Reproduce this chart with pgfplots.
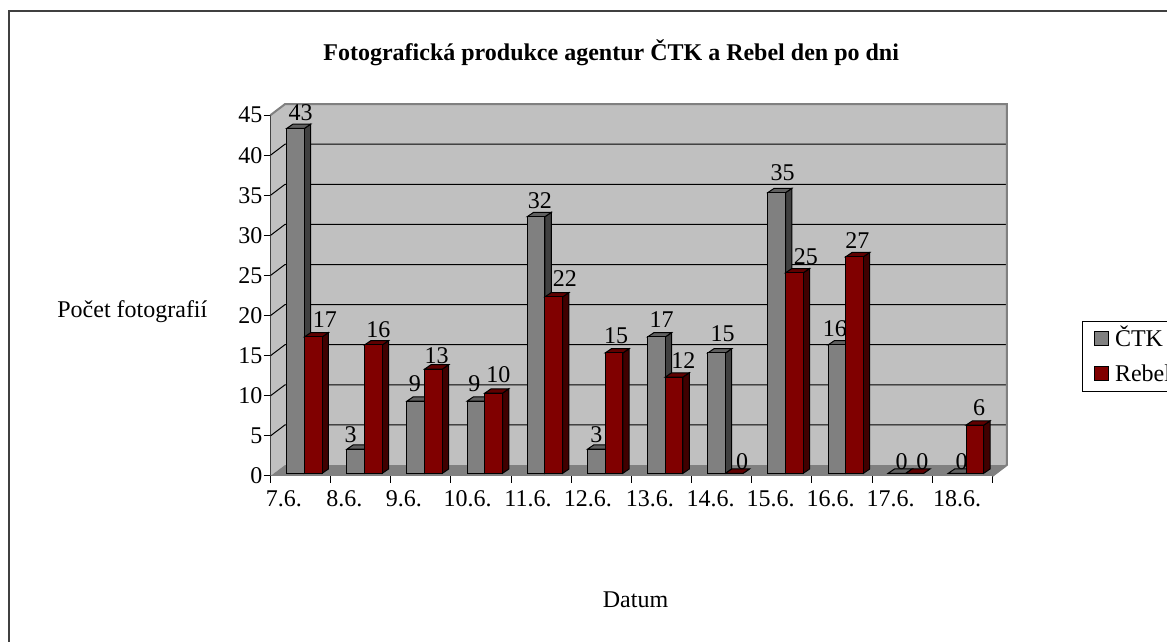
\documentclass[border=0pt]{standalone}
\usepackage{pgfplots}
\pgfplotsset{compat=1.18}
\usepackage{pgfplotstable}
\usepackage{fontspec}
\setmainfont{Liberation Serif}
\definecolor{wall}{HTML}{C0C0C0}
\definecolor{floorc}{HTML}{808080}
\definecolor{gf}{HTML}{808080}
\definecolor{gs}{HTML}{404040}
\definecolor{gt}{HTML}{606060}
\definecolor{rf}{HTML}{800000}
\definecolor{rs}{HTML}{400000}
\definecolor{rt}{HTML}{600000}
% x y dx dy : dx, dy are the small offsets of the value label
\pgfplotstableread{
x y dx dy
0.5 43 1.6 0.3
1.5 3 -8.5 -1
2.5 9 -4.4 2.6
3.5 9 -5.2 2.6
4.5 32 0.3 0.9
5.5 3 -3.5 -1
6.5 17 1.7 2.2
7.5 15 2.5 4.5
8.5 35 2.4 4.4
9.5 16 -5.5 0.8
10.5 0 1.1 -4.2
11.5 0 1 -4.2
}\ctk
\pgfplotstableread{
x y dx dy
0.5 17 6.4 2.2
1.5 16 -0.4 0.2
2.5 13 -2.2 -1.8
3.5 10 -0.7 3.3
4.5 22 5.8 2.7
5.5 15 -3.3 2.2
6.5 12 3.8 0.6
7.5 0 2.4 -4.2
8.5 25 6.2 1
9.5 27 -2.6 0.3
10.5 0 2.2 -4.2
11.5 6 -1.2 1.7
}\rebel
\newcommand{\bigfont}{\fontsize{24}{28}\selectfont}
\pgfplotsset{
  sidetop/.style n args={2}{
    scatter, only marks, forget plot, mark=*, mark size=0pt,
    mark options={draw=none,fill=none},
    visualization depends on={rawy \as \rawval},
    scatter/@pre marker code/.code={
      \pgfmathsetmacro\hh{\rawval*8.02}
      \filldraw[fill=#1,draw=black,line width=1pt] (0pt,0pt)--(6.3pt,4.3pt)--(6.3pt,4.3pt-\hh pt)--(0pt,-\hh pt)--cycle;
      \filldraw[fill=#2,draw=black,line width=1pt] (0pt,0pt)--(6.3pt,4.3pt)--(-11.4pt,4.3pt)--(-17.7pt,0pt)--cycle;
    },
    scatter/@post marker code/.code={},
  },
  front/.style={ybar, forget plot, bar width=17.7pt, draw=black, line width=1pt},
  lab/.style={only marks, mark=none, forget plot, nodes near coords,
    point meta=y,
    visualization depends on={\thisrow{dx} \as \dxv},
    visualization depends on={\thisrow{dy} \as \dyv},
    every node near coord/.append style={anchor=base, font=\bigfont, inner sep=0pt,
      /pgf/number format/assume math mode=true, xshift=\dxv pt, yshift=7.5pt+\dyv pt}},
}
\begin{document}
\begin{tikzpicture}[x=1pt,y=1pt]
\path[use as bounding box] (0,0) rectangle (1167,642);
\clip (0,0) rectangle (1167,642);
\draw[color=black!75, line width=2pt] (8.7,-5)--(8.7,631.3)--(1175,631.3);
\begin{axis}[
  clip mode=individual,
  at={(270.5pt,166pt)}, anchor=south west,
  scale only axis, width=721.8pt, height=360.9pt,
  xmin=0, xmax=12, ymin=0, ymax=45, clip=false,
  axis x line=bottom, axis y line=left,
  axis line style={black,line width=1pt,-},
  xtick={0,...,12}, xticklabels={}, 
  extra x ticks={0.224,1.227,2.219,3.279,4.281,5.278,6.309,7.318,8.316,9.313,10.311,11.413},
  extra x tick labels={7.6.,8.6.,9.6.,10.6.,11.6.,12.6.,13.6.,14.6.,15.6.,16.6.,17.6.,18.6.},
  extra x tick style={major tick length=0pt, tick label style={font=\bigfont, anchor=base, yshift=-30.5pt}},
  ytick={0,5,...,45},
  major tick style={black,line width=1pt},
  tick align=outside, major tick length=7pt,
  tick label style={font=\bigfont, /pgf/number format/assume math mode=true},
  ticklabel style={inner sep=1pt},
  title={\fontsize{24}{28}\selectfont\bfseries Fotografická produkce agentur ČTK a Rebel den po dni},
  title style={at={(axis description cs:0.472,1.136)},anchor=base, inner sep=0pt},
  xlabel={\bigfont Datum},
  xlabel style={at={(axis description cs:0.5057,-0.363)},anchor=base, inner sep=0pt},
  ylabel={\bigfont Počet fotografií},
  ylabel style={rotate=-90,at={(axis description cs:-0.1914,0.44)},anchor=base, inner sep=0pt},
  legend style={at={(1.0,0.235)},anchor=south west,xshift=89.7pt,draw=black,line width=1pt,
    font=\bigfont, inner sep=4pt, outer sep=0pt,
    legend cell align=left, row sep=8pt,
    nodes={inner sep=2pt, text height=19pt, text depth=4pt}},
  legend image code/.code={\path[fill=none,draw=none] (0pt,-7pt) rectangle (27pt,7pt);\filldraw[#1,draw=black,line width=1pt] (8pt,-7pt) rectangle (22pt,7pt);},
]
% back wall
\addplot[fill=wall,draw=none,forget plot] coordinates {(0,0)(0.241,1.37)(0.241,46.37)(0,45)};
\addplot[fill=wall,draw=none,forget plot] coordinates {(0.241,1.37)(12.241,1.37)(12.241,46.37)(0.241,46.37)};
\addplot[fill=floorc,draw=none,forget plot] coordinates {(0,0)(12,0)(12.241,1.37)(0.241,1.37)};
\pgfplotsinvokeforeach{5,10,...,40}{
  \addplot[black,line width=1pt,forget plot] coordinates {(0,#1)(0.241,#1+1.37)(12.241,#1+1.37)};
}
\addplot[color=floorc,line width=2pt,forget plot] coordinates {(0,45)(0.241,46.37)(12.241,46.37)(12.241,1.37)(12,0)};
% series
\addplot[sidetop={gs}{gt}, xshift=3.8pt, yshift=2.7pt] table {\ctk};
\addplot[front, fill=gf, bar shift=-8.85pt, xshift=3.8pt, yshift=2.7pt] table {\ctk};
\addplot[sidetop={rs}{rt}, xshift=21.5pt, yshift=2.7pt] table {\rebel};
\addplot[front, fill=rf, bar shift=8.85pt, xshift=3.8pt, yshift=2.7pt] table {\rebel};
% labels
\addplot[lab, xshift=-1.5pt, yshift=2.7pt] table {\ctk};
\addplot[lab, xshift=18pt, yshift=2.7pt] table {\rebel};
% legend
\addlegendimage{fill=gf}
\addlegendentry{ČTK}
\addlegendimage{fill=rf}
\addlegendentry{Rebel}
\end{axis}
\end{tikzpicture}
\end{document}
